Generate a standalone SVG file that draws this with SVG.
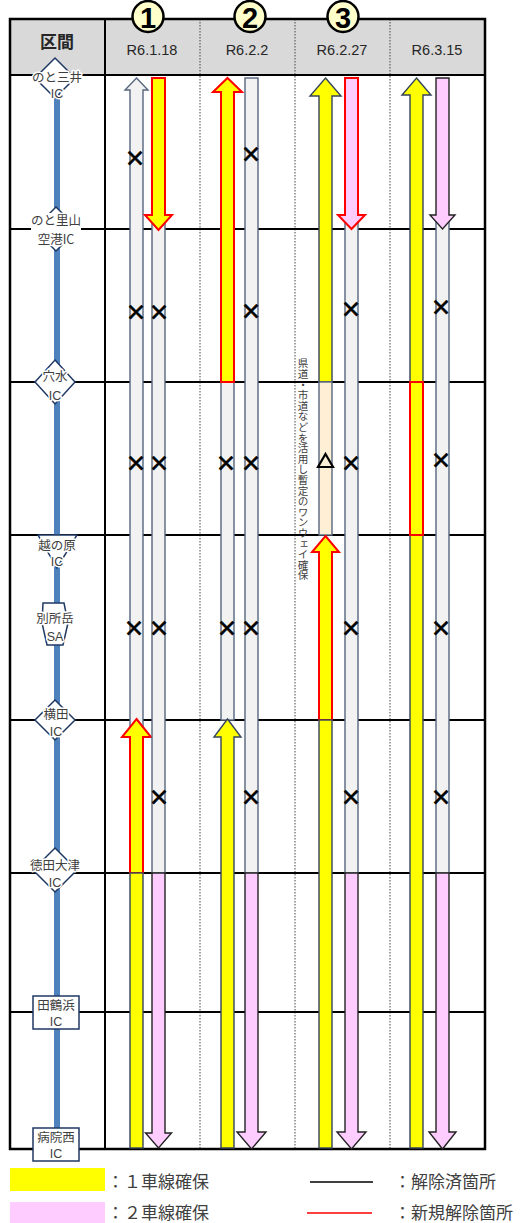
<svg xmlns="http://www.w3.org/2000/svg" width="521" height="1223" viewBox="0 0 521 1223">
<style>
.ln{stroke:#000;stroke-width:2;fill:none}
.bd{stroke:#000;stroke-width:2.5;fill:none}
.dot{stroke:#444;stroke-width:1;stroke-dasharray:1.5 1.5;fill:none}
.gray{fill:#F2F2F2;stroke:#56677E;stroke-width:1.4}
.yel{fill:#FFFF00;stroke:#34445A;stroke-width:1.4}
.yelr{fill:#FFFF00;stroke:#FF0000;stroke-width:2}
.pink{fill:#FFCCFF;stroke:#222;stroke-width:1.4}
.pinkr{fill:#FFCCFF;stroke:#FF0000;stroke-width:2}
.peach{fill:#FFEFD5;stroke:#56677E;stroke-width:1.4}
.redbox{fill:none;stroke:#FF0000;stroke-width:2}
.ic{fill:#fff;stroke:#1F3864;stroke-width:1.5}
.ict{font-family:"Noto Sans CJK JP",sans-serif;font-size:12.5px;fill:#404040;text-anchor:middle;paint-order:stroke;stroke:#fff;stroke-width:3px;stroke-linejoin:round}
.ica{font-family:"Liberation Sans",Arial,sans-serif;font-size:12.5px;fill:#404040;text-anchor:middle;paint-order:stroke;stroke:#fff;stroke-width:3px;stroke-linejoin:round}
.x{font-family:"Noto Sans CJK JP",sans-serif;font-weight:bold;font-size:21px;text-anchor:middle;dominant-baseline:central;fill:#000;stroke:#000;stroke-width:0.6}
.dt{font-family:"Liberation Sans",Arial,sans-serif;font-size:14.5px;fill:#262626;text-anchor:middle}
.num{fill:#FFFFCC;stroke:#000;stroke-width:2.5}
.numt{font-family:"Liberation Sans",Arial,sans-serif;font-weight:bold;font-size:29px;fill:#000;text-anchor:middle}
.lg{font-family:"Noto Sans CJK JP",sans-serif;font-size:17px;fill:#404040}
</style>

<g id="table">
  <rect x="10" y="19" width="475" height="56" fill="#D9D9D9"/>
  <line class="dot" x1="200" y1="19" x2="200" y2="1149"/>
  <line class="dot" x1="295" y1="19" x2="295" y2="1149"/>
  <line class="dot" x1="390" y1="19" x2="390" y2="1149"/>
  <line class="ln" x1="105" y1="19" x2="105" y2="1149"/>
  <line class="ln" x1="10" y1="75" x2="485" y2="75"/>
  <line class="ln" x1="10" y1="229" x2="485" y2="229"/>
  <line class="ln" x1="10" y1="382" x2="485" y2="382"/>
  <line class="ln" x1="10" y1="535" x2="485" y2="535"/>
  <line class="ln" x1="10" y1="720" x2="485" y2="720"/>
  <line class="ln" x1="10" y1="873" x2="485" y2="873"/>
  <line class="ln" x1="10" y1="1012" x2="485" y2="1012"/>
  <rect class="bd" x="10" y="19" width="475" height="1130"/>
  <text x="57" y="48" font-family="'Noto Sans CJK JP',sans-serif" font-size="17" font-weight="bold" fill="#262626" text-anchor="middle">区間</text>
  <text class="dt" x="152" y="55">R6.1.18</text>
  <text class="dt" x="247" y="55">R6.2.2</text>
  <text class="dt" x="342" y="55">R6.2.27</text>
  <text class="dt" x="437" y="55">R6.3.15</text>
</g>

<g id="badges">
  <g id="badge1"><circle class="num" cx="148" cy="16.5" r="15.5"/><text class="numt" x="148" y="27.5">1</text></g>
  <g id="badge2"><circle class="num" cx="250" cy="16.5" r="15.5"/><text class="numt" x="250" y="27.5">2</text></g>
  <g id="badge3"><circle class="num" cx="343" cy="16.5" r="15.5"/><text class="numt" x="343" y="27.5">3</text></g>
</g>

<g id="road">
  <rect x="54" y="92" width="6" height="1036" fill="#4F81BD"/>
</g>

<g id="ic-notomii">
  <polygon class="ic" points="55,58 75,78 55,98 35,78"/>
  <text class="ict" x="57" y="82">のと三井</text>
  <text class="ica" x="57" y="98">IC</text>
</g>
<g id="ic-notosatoyama">
  <polygon class="ic" points="56,207 78,229 56,251 34,229"/>
  <rect x="31" y="213" width="50" height="32" fill="#fff"/>
  <text class="ict" x="56" y="225">のと里山</text>
  <text class="ict" x="56" y="244">空港IC</text>
</g>
<g id="ic-anamizu">
  <polygon class="ic" points="55,360 75,382 55,404 35,382"/>
  <text class="ict" x="55" y="381">穴水</text>
  <text class="ica" x="55" y="400">IC</text>
</g>
<g id="ic-koshinohara">
  <polygon class="ic" points="38,535 77,535 57,568"/>
  <text class="ict" x="57" y="550">越の原</text>
  <text class="ica" x="57" y="566">IC</text>
</g>
<g id="sa-bessho">
  <polygon class="ic" points="43,603 64,603 68,623 63,645 47,645 42,623"/>
  <text class="ict" x="55" y="623">別所岳</text>
  <text class="ica" x="55" y="641">SA</text>
</g>
<g id="ic-yokota">
  <polygon class="ic" points="55,700 75,720 55,740 35,720"/>
  <text class="ict" x="56" y="719">横田</text>
  <text class="ica" x="56" y="736">IC</text>
</g>
<g id="ic-tokudaotsu">
  <polygon class="ic" points="55,848 77,870 55,892 33,870"/>
  <text class="ict" x="55" y="870">徳田大津</text>
  <text class="ica" x="55" y="887">IC</text>
</g>
<g id="ic-tatsuruhama">
  <rect class="ic" x="33" y="996" width="46" height="33"/>
  <text class="ict" x="56" y="1010">田鶴浜</text>
  <text class="ica" x="56" y="1025.5">IC</text>
</g>
<g id="ic-byoinnishi">
  <rect class="ic" x="33" y="1128" width="46" height="33"/>
  <text class="ict" x="56" y="1142">病院西</text>
  <text class="ica" x="56" y="1158">IC</text>
</g>

<g id="connectors">
  <g id="col1">
    <polygon class="gray" points="136.5,78 148,90 143,90 143,873 130,873 130,90 125,90"/>
    <polygon class="yelr" points="136.5,719 151,737 143,737 143,873 130,873 130,737 122,737"/>
    <rect class="yel" x="130" y="873" width="13" height="275"/>
    <rect class="gray" x="152" y="215" width="13" height="658"/>
    <polygon class="yelr" points="152,78 165,78 165,215 172,215 158.5,230 145,215 152,215"/>
    <polygon class="pink" points="152,873 165,873 165,1133 171.5,1133 158.5,1148 145.5,1133 152,1133"/>
  </g>
  <g id="col2">
    <rect class="gray" x="221" y="382" width="13" height="338"/>
    <polygon class="yelr" points="227.5,78 242,92 234,92 234,382 221,382 221,92 213,92"/>
    <polygon class="yel" points="227.5,719 241,737 234,737 234,1148 221,1148 221,737 214,737"/>
    <rect class="gray" x="245" y="78" width="13" height="795"/>
    <polygon class="pink" points="245,873 258,873 258,1132 266,1132 251.5,1149 237,1132 245,1132"/>
  </g>
  <g id="col3">
    <polygon class="yel" points="325.5,78 341,96 332,96 332,382 319,382 319,96 310,96"/>
    <rect class="peach" x="319" y="382" width="13" height="153"/>
    <polygon class="yelr" points="325.5,536 339,552 332,552 332,720 319,720 319,552 312,552"/>
    <rect class="yel" x="319" y="720" width="13" height="428"/>
    <rect class="gray" x="345" y="215" width="13" height="658"/>
    <polygon class="pinkr" points="345,78 358,78 358,215 365,215 351.5,229 338,215 345,215"/>
    <polygon class="pink" points="345,873 358,873 358,1132 366,1132 351.5,1149 337,1132 345,1132"/>
  </g>
  <g id="col4">
    <polygon class="yel" points="416.5,78 431,95 423,95 423,1148 410,1148 410,95 402,95"/>
    <rect class="redbox" x="410" y="382" width="13" height="153"/>
    <rect class="gray" x="436" y="215" width="13" height="658"/>
    <polygon class="pink" points="436,78 449,78 449,215 455,215 442.5,229 430,215 436,215"/>
    <polygon class="pink" points="436,873 449,873 449,1132 456,1132 442.5,1149 429,1132 436,1132"/>
  </g>
</g>

<g id="marks">
  <text class="x" x="135" y="157">×</text>
  <text class="x" x="136" y="311">×</text>
  <text class="x" x="159" y="311">×</text>
  <text class="x" x="136" y="462">×</text>
  <text class="x" x="159" y="462">×</text>
  <text class="x" x="134" y="627">×</text>
  <text class="x" x="159" y="627">×</text>
  <text class="x" x="159" y="796">×</text>

  <text class="x" x="251" y="153">×</text>
  <text class="x" x="251" y="310">×</text>
  <text class="x" x="226" y="462">×</text>
  <text class="x" x="251" y="462">×</text>
  <text class="x" x="227" y="627">×</text>
  <text class="x" x="251" y="627">×</text>
  <text class="x" x="251" y="796">×</text>

  <text class="x" x="351" y="308">×</text>
  <text class="x" x="351" y="462">×</text>
  <text class="x" x="351" y="627">×</text>
  <text class="x" x="351" y="796">×</text>

  <text class="x" x="441" y="306">×</text>
  <text class="x" x="441" y="459">×</text>
  <text class="x" x="441" y="627">×</text>
  <text class="x" x="441" y="796">×</text>

  <polygon points="325.5,454 333,467 318,467" fill="none" stroke="#000" stroke-width="2.2" stroke-linejoin="miter"/>
  <text x="303" y="358" style="writing-mode:vertical-rl" font-family="'Noto Sans CJK JP',sans-serif" font-size="10.6" fill="#404040">県道・市道などを活用し暫定のワンウェイ確保</text>
</g>

<g id="legend">
  <rect x="10" y="1168" width="95" height="23" fill="#FFFF00"/>
  <rect x="10" y="1202" width="95" height="21" fill="#FFCCFF"/>
  <text class="lg" x="107" y="1188">：１車線確保</text>
  <text class="lg" x="107" y="1219">：２車線確保</text>
  <line x1="310" y1="1182" x2="373" y2="1182" stroke="#000" stroke-width="1.5"/>
  <line x1="307" y1="1213" x2="372" y2="1213" stroke="#FF0000" stroke-width="1.5"/>
  <text class="lg" x="394" y="1188">：解除済箇所</text>
  <text class="lg" x="394" y="1219">：新規解除箇所</text>
</g>
</svg>
